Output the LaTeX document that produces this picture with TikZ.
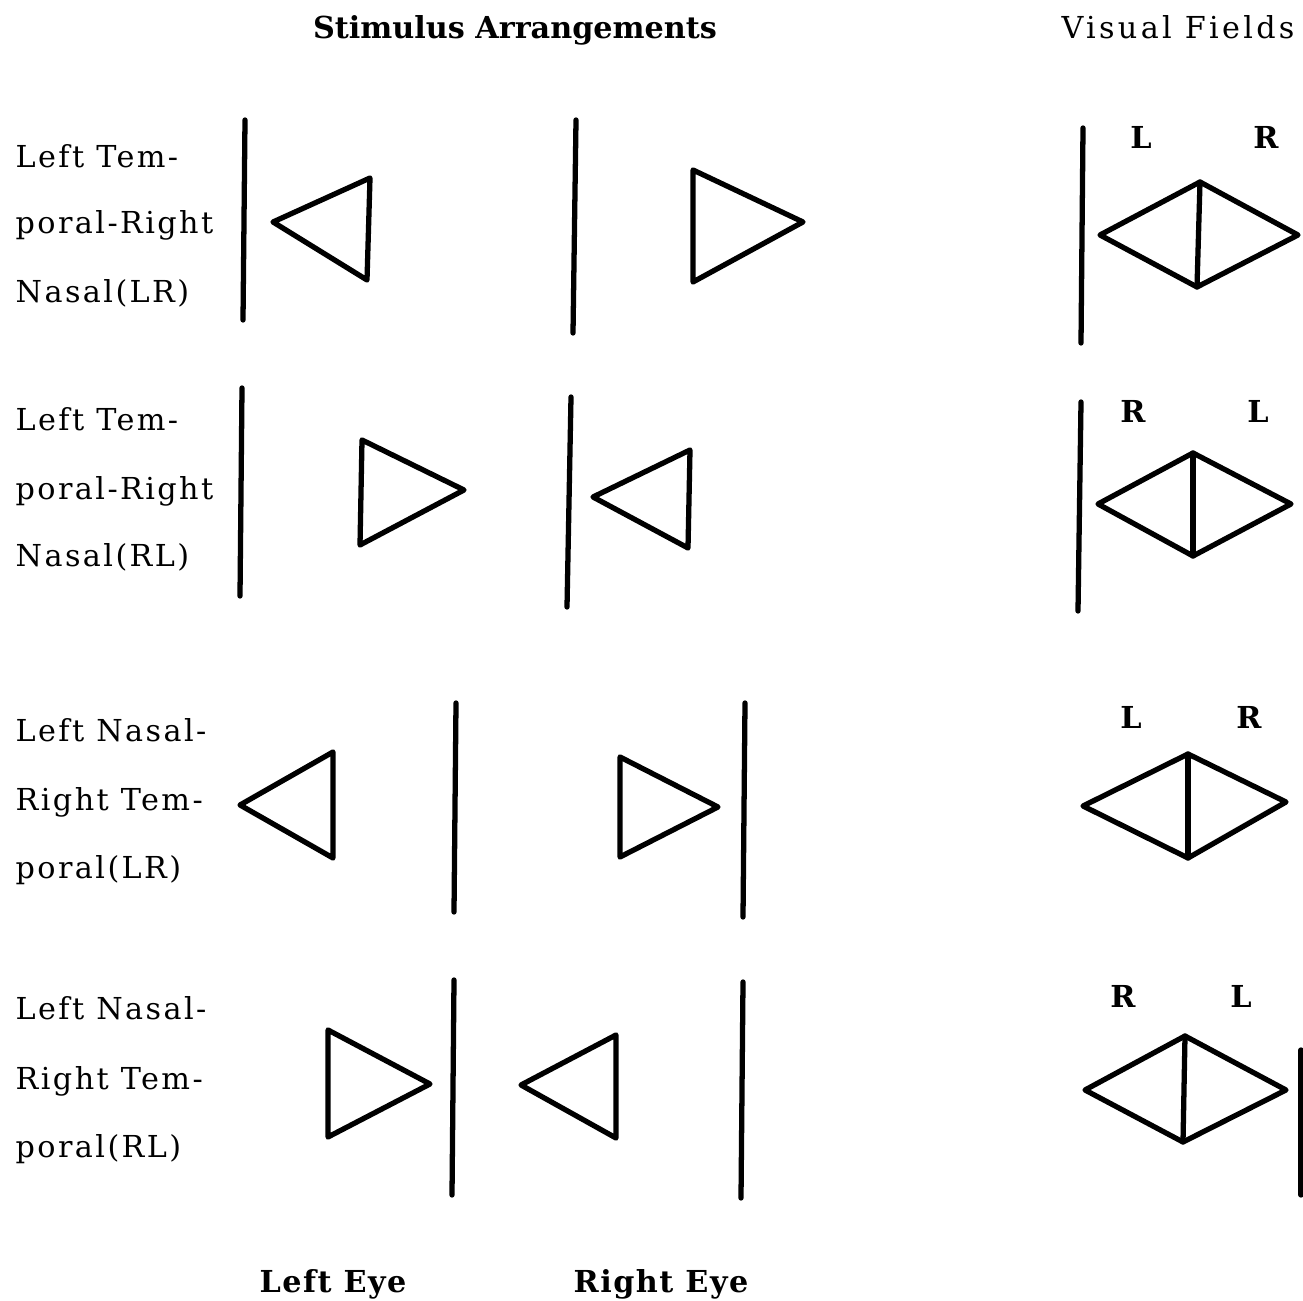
\documentclass[tikz,border=0pt]{standalone}
\usepackage{fontspec}
\setmainfont{DejaVu Serif}
\newfontfamily\labfont[LetterSpace=8]{DejaVu Serif}
\newfontfamily\headfont[LetterSpace=0]{DejaVu Serif}
\newfontfamily\eyefont[LetterSpace=5]{DejaVu Serif}
\newfontfamily\vffont[LetterSpace=11]{DejaVu Serif}
\begin{document}
\begin{tikzpicture}[x=0.01cm,y=-0.01cm,
  stroke/.style={line width=1.5pt, line cap=round, line join=round},
  rowlab/.style={anchor=base west, inner sep=0pt, font=\labfont\fontsize{8.6}{10}\selectfont},
  head/.style={anchor=base, inner sep=0pt, font=\headfont\bfseries\fontsize{8.6}{10}\selectfont},
  eyelab/.style={anchor=base, inner sep=0pt, font=\eyefont\bfseries\fontsize{8.6}{10}\selectfont},
  vfhead/.style={anchor=base, inner sep=0pt, font=\vffont\fontsize{8.6}{10}\selectfont},
  fieldlab/.style={anchor=base, inner sep=0pt, font=\bfseries\fontsize{8.6}{10}\selectfont}]
\useasboundingbox (0,0) rectangle (1303,1301);
% headers
\node[head] (h1) at (515,39) {Stimulus Arrangements};
\node[vfhead] (h2) at (1178,39) {Visual Fields};
\node[eyelab] (e1) at (333,1292) {Left Eye};
\node[eyelab] (e2) at (661,1292) {Right Eye};
% row labels
\node[rowlab] (r1a) at (15,168) {Left Tem-};
\node[rowlab] (r1b) at (15,234) {poral-Right};
\node[rowlab] (r1c) at (15,303) {Nasal(LR)};
\node[rowlab] (r2a) at (15,431) {Left Tem-};
\node[rowlab] (r2b) at (15,500) {poral-Right};
\node[rowlab] (r2c) at (15,567) {Nasal(RL)};
\node[rowlab] (r3a) at (15,742) {Left Nasal-};
\node[rowlab] (r3b) at (15,811) {Right Tem-};
\node[rowlab] (r3c) at (15,879) {poral(LR)};
\node[rowlab] (r4a) at (15,1019) {Left Nasal-};
\node[rowlab] (r4b) at (15,1089) {Right Tem-};
\node[rowlab] (r4c) at (15,1157) {poral(RL)};
% field labels
\node[fieldlab] (f1l) at (1141,149) {L};
\node[fieldlab] (f1r) at (1266,149) {R};
\node[fieldlab] (f2l) at (1133,423) {R};
\node[fieldlab] (f2r) at (1258,423) {L};
\node[fieldlab] (f3l) at (1131,729) {L};
\node[fieldlab] (f3r) at (1249,729) {R};
\node[fieldlab] (f4l) at (1123,1008) {R};
\node[fieldlab] (f4r) at (1241,1008) {L};
% Row 1
\draw[stroke] (245,120) -- (243,320);
\draw[stroke] (576,120) -- (573,333);
\draw[stroke] (1083,128) -- (1081,343);
\draw[stroke] (273,222) -- (370,178) -- (367,280) -- cycle;
\draw[stroke] (693,170) -- (803,222) -- (693,282) -- cycle;
\draw[stroke] (1100,235) -- (1200,182) -- (1298,235) -- (1197,287) -- cycle;
\draw[stroke] (1200,182) -- (1197,287);
% Row 2
\draw[stroke] (242,388) -- (240,596);
\draw[stroke] (571,397) -- (567,607);
\draw[stroke] (1081,402) -- (1078,611);
\draw[stroke] (362,440) -- (464,490) -- (360,545) -- cycle;
\draw[stroke] (593,497) -- (690,450) -- (688,548) -- cycle;
\draw[stroke] (1098,504) -- (1193,453) -- (1291,504) -- (1193,556) -- cycle;
\draw[stroke] (1193,453) -- (1193,556);
% Row 3
\draw[stroke] (456,703) -- (454,912);
\draw[stroke] (745,703) -- (743,917);
\draw[stroke] (240,805) -- (333,752) -- (333,858) -- cycle;
\draw[stroke] (620,757) -- (718,807) -- (620,857) -- cycle;
\draw[stroke] (1083,806) -- (1188,754) -- (1286,802) -- (1188,858) -- cycle;
\draw[stroke] (1188,754) -- (1188,858);
% Row 4
\draw[stroke] (454,980) -- (452,1195);
\draw[stroke] (743,982) -- (741,1198);
\draw[stroke] (1301,1050) -- (1301,1195);
\draw[stroke] (328,1030) -- (430,1084) -- (328,1137) -- cycle;
\draw[stroke] (521,1085) -- (616,1035) -- (616,1138) -- cycle;
\draw[stroke] (1085,1090) -- (1185,1036) -- (1286,1090) -- (1183,1142) -- cycle;
\draw[stroke] (1185,1036) -- (1183,1142);
\end{tikzpicture}
\end{document}
